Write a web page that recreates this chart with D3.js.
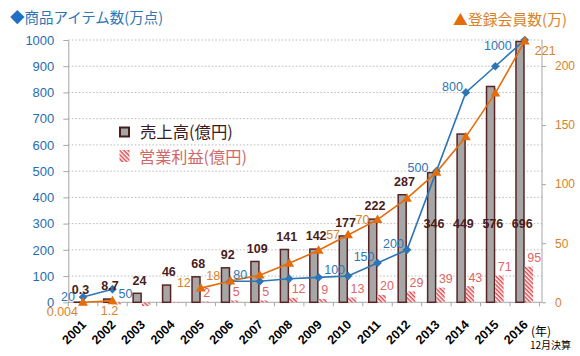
<!DOCTYPE html>
<html><head><meta charset="utf-8">
<script src="https://cdn.jsdelivr.net/npm/d3@7"></script>
<style>
html,body{margin:0;padding:0;background:#fff;}
svg text{font-family:"Liberation Sans","Noto Sans CJK JP",sans-serif;}
svg text.cjk{font-family:"Noto Sans CJK JP",sans-serif;}
</style></head>
<body><svg id="c" width="580" height="356"></svg>
<script>
const years = ["2001","2002","2003","2004","2005","2006","2007","2008","2009","2010","2011","2012","2013","2014","2015","2016"];
const sales = [0.3, 8.7, 24, 46, 68, 92, 109, 141, 142, 177, 222, 287, 346, 449, 576, 696];
const profit = [0, -6, -10, -1, 2, 5, 5, 12, 9, 13, 20, 29, 39, 43, 71, 95];
const profitLabels = [null, null, null, null, "2", "5", "5", "12", "9", "13", "20", "29", "39", "43", "71", "95"];
const items = [20, 50, null, null, null, 80, 80, 90, 95, 100, 150, 200, 500, 800, 900, 1000];
const itemLabels = ["20","50",null,null,null,"80",null,null,null,"100","150","200","500","800",null,"1000"];
const members = [0.004, 1.2, null, null, 12, 18, 23, 33, 44, 57, 70, 88, 110, 140, 177, 221];
const memberLabels = ["0.004","1.2",null,null,"12","18",null,null,null,"57","70",null,null,null,null,"221"];
const leftTicks = [0,100,200,300,400,500,600,700,800,900,1000];
const rightTicks = [0,50,100,150,200];

// label placement (layout only)
const itemPlace = ["l","r",null,null,null,"tr",null,null,null,"tl","tl","tl","tl2","tl",null,"lb"];
const memberPlace = ["bl","b",null,null,"tl3","tl3",null,null,null,"l","l",null,null,null,null,"rb"];
const placeMap = {
  l:{a:"end",dx:-8,dy:0}, r:{a:"start",dx:6,dy:4}, tr:{a:"start",dx:3,dy:-7},
  tl:{a:"end",dx:-3,dy:-6}, tl2:{a:"end",dx:-8,dy:-4}, lb:{a:"end",dx:-13,dy:6},
  bl:{a:"end",dx:-5,dy:9.5}, b:{a:"middle",dx:-3,dy:10}, rb:{a:"start",dx:10,dy:9},
  tl3:{a:"end",dx:-10,dy:-5}
};

const svg = d3.select("#c");
const y0 = 302.3, yTop = 40;
const x = d3.scaleBand().domain(years).range([68.3, 539.5]).paddingInner(0).paddingOuter(0);
const cx = d => x(d) + x.bandwidth()/2;
const yL = d3.scaleLinear().domain([0,1000]).range([y0, yTop]);
const yS = d3.scaleLinear().domain([0,700]).range([y0, yTop]);
const yR = d3.scaleLinear().domain([0,222]).range([y0, yTop]);
const barW = 8.8;

// fit a text's rendered width to a target width by scaling its font size
function fitWidth(sel, target, base){
  sel.style("font-size", base+"px");
  const w = sel.node().getComputedTextLength();
  if (w > 0) sel.style("font-size", (base*target/w).toFixed(2)+"px");
}

const defs = svg.append("defs");
const pat = defs.append("pattern").attr("id","hatch").attr("patternUnits","userSpaceOnUse")
  .attr("width",3).attr("height",3).attr("patternTransform","rotate(45)");
pat.append("rect").attr("width",3).attr("height",3).attr("fill","#fff");
pat.append("rect").attr("width",3).attr("height",1.5).attr("fill","#e2464b");

// gridlines
svg.append("g").selectAll("line").data(leftTicks.filter(t=>t>0)).join("line")
  .attr("x1",68.3).attr("x2",542).attr("y1",d=>yL(d)).attr("y2",d=>yL(d))
  .attr("stroke","#b8b8b8").attr("stroke-width",1).attr("stroke-dasharray","1.5,2");

// left axis
const gl = svg.append("g").attr("transform","translate(68.3,0)")
  .call(d3.axisLeft(yL).tickValues(leftTicks).tickFormat(d3.format("d")).tickSize(5).tickPadding(9).tickSizeOuter(0));
gl.select(".domain").attr("stroke","#a6a6a6");
gl.selectAll(".tick line").attr("stroke","#a6a6a6");
gl.selectAll(".tick text").attr("fill","#1f6db3").style("font-size","13px").style("font-family","Liberation Sans");

// right axis
const gr = svg.append("g").attr("transform","translate(542,0)")
  .call(d3.axisRight(yR).tickValues(rightTicks).tickFormat(d3.format("d")).tickSize(4).tickPadding(9).tickSizeOuter(0));
gr.select(".domain").attr("stroke","#a6a6a6").attr("d","M0,"+y0+"V"+yTop);
gr.selectAll(".tick line").attr("stroke","#a6a6a6");
gr.selectAll(".tick text").attr("fill","#d9822b").style("font-size","12px").style("font-family","Liberation Sans");

// x axis
svg.append("line").attr("x1",68.3).attr("x2",542).attr("y1",y0).attr("y2",y0).attr("stroke","#a6a6a6");
svg.append("g").selectAll("line").data(years.concat(["end"])).join("line")
  .attr("x1",(d,i)=>i<years.length? x(d) : x(years[years.length-1])+x.bandwidth())
  .attr("x2",(d,i)=>i<years.length? x(d) : x(years[years.length-1])+x.bandwidth())
  .attr("y1",y0).attr("y2",y0+4).attr("stroke","#a6a6a6");
svg.append("g").selectAll("text").data(years).join("text")
  .attr("transform",d=>`translate(${cx(d)+4},${y0+23}) rotate(-45)`)
  .attr("text-anchor","end").attr("fill","#000").style("font-size","12.5px").style("font-weight","bold")
  .text(d=>d);

// sales bars
svg.append("g").selectAll("rect").data(years).join("rect")
  .attr("x",d=>cx(d)-barW).attr("width",barW-0.8)
  .attr("y",(d,i)=>yS(sales[i])).attr("height",(d,i)=>y0-yS(sales[i]))
  .attr("fill","#a6a6a6").attr("stroke","#5a2424").attr("stroke-width",1.5);

// profit bars
svg.append("g").selectAll("rect").data(years).join("rect")
  .attr("x",d=>cx(d)).attr("width",barW-0.5)
  .attr("y",(d,i)=>Math.min(yS(profit[i]),y0)).attr("height",(d,i)=>Math.abs(y0-yS(profit[i])))
  .attr("fill","url(#hatch)");

// lines
const blue="#2e75b6", orange="#e46c0a";
const itemPts = years.map((d,i)=>({x:cx(d),y:items[i]==null?null:yL(items[i]),v:items[i],i}));
const memPts = years.map((d,i)=>({x:cx(d),y:members[i]==null?null:yR(members[i]),v:members[i],i}));
const line = d3.line().defined(d=>d.v!=null).x(d=>d.x).y(d=>d.y);
svg.append("path").datum(itemPts).attr("d",line).attr("fill","none").attr("stroke",blue).attr("stroke-width",1.6);
svg.append("path").datum(memPts).attr("d",line).attr("fill","none").attr("stroke",orange).attr("stroke-width",1.6);
svg.append("g").selectAll("path").data(itemPts.filter(d=>d.v!=null)).join("path")
  .attr("d",d3.symbol().type(d3.symbolDiamond2).size(48))
  .attr("transform",d=>`translate(${d.x},${d.y})`).attr("fill",blue);
svg.append("g").selectAll("path").data(memPts.filter(d=>d.v!=null)).join("path")
  .attr("d",d3.symbol().type(d3.symbolTriangle).size(42))
  .attr("transform",d=>`translate(${d.x},${d.y+0.5})`).attr("fill",orange);

// sales labels
svg.append("g").selectAll("text").data(years).join("text")
  .attr("x",d=>cx(d)-2.5)
  .attr("y",(d,i)=> sales[i]>300 ? yS(211) : yS(sales[i])-13)
  .attr("dy","0.35em").attr("text-anchor","middle")
  .attr("fill","#4a1c1c").style("font-size","12.5px").style("font-weight","bold")
  .text((d,i)=>sales[i]);

// profit labels
svg.append("g").selectAll("text").data(years.filter((d,i)=>profitLabels[i]!=null)).join("text")
  .attr("x",d=>cx(d)+2.5)
  .attr("y",d=>{const i=years.indexOf(d);return yS(profit[i])-9;})
  .attr("dy","0.35em").attr("text-anchor","start")
  .attr("fill","#e06666").style("font-size","12.5px")
  .text(d=>profitLabels[years.indexOf(d)]);

// item labels
svg.append("g").selectAll("text").data(itemPts.filter(d=>itemLabels[d.i]!=null)).join("text")
  .attr("x",d=>d.x+placeMap[itemPlace[d.i]].dx).attr("y",d=>d.y+placeMap[itemPlace[d.i]].dy)
  .attr("dy","0.35em").attr("text-anchor",d=>placeMap[itemPlace[d.i]].a)
  .attr("fill","#2e75b6").style("font-size","12.5px")
  .text(d=>itemLabels[d.i]);

// member labels
svg.append("g").selectAll("text").data(memPts.filter(d=>memberLabels[d.i]!=null)).join("text")
  .attr("x",d=>d.x+placeMap[memberPlace[d.i]].dx).attr("y",d=>d.y+placeMap[memberPlace[d.i]].dy)
  .attr("dy","0.35em").attr("text-anchor",d=>placeMap[memberPlace[d.i]].a)
  .attr("fill","#d9822b").style("font-size","12.5px")
  .text(d=>memberLabels[d.i]);

// titles
const t1 = svg.append("text").attr("class","cjk").attr("x",10).attr("y",18).attr("dy","0.35em");
t1.append("tspan").attr("fill","#1f6fc5").text("◆");
t1.append("tspan").attr("fill","#2e75b6").text("商品アイテム数(万点)");
fitWidth(t1, 153, 14);
const t2 = svg.append("text").attr("class","cjk").attr("x",567).attr("y",20).attr("dy","0.35em").attr("text-anchor","end");
t2.append("tspan").attr("fill","#e46c0a").text("▲");
t2.append("tspan").attr("fill","#d9822b").text("登録会員数(万)");
fitWidth(t2, 114, 14);

// legend
svg.append("rect").attr("x",120).attr("y",127.5).attr("width",9).attr("height",9)
  .attr("fill","#a6a6a6").attr("stroke","#4a1c1c").attr("stroke-width",2);
const lg1 = svg.append("text").attr("class","cjk").attr("x",140).attr("y",132).attr("dy","0.35em").attr("fill","#3a1a1a")
  .text("売上高(億円)");
fitWidth(lg1, 93, 15);
svg.append("rect").attr("x",119.5).attr("y",150).attr("width",10).attr("height",12).attr("fill","url(#hatch)");
const lg2 = svg.append("text").attr("class","cjk").attr("x",139).attr("y",157).attr("dy","0.35em").attr("fill","#d0686b")
  .text("営業利益(億円)");
fitWidth(lg2, 108, 15);

// unit notes
svg.append("text").attr("class","cjk").attr("x",531).attr("y",332).attr("dy","0.35em").attr("fill","#000").style("font-size","12px").text("(年)");
svg.append("text").attr("class","cjk").attr("x",530).attr("y",345).attr("dy","0.35em").attr("fill","#000").style("font-size","10px").text("12月決算");
</script></body></html>
